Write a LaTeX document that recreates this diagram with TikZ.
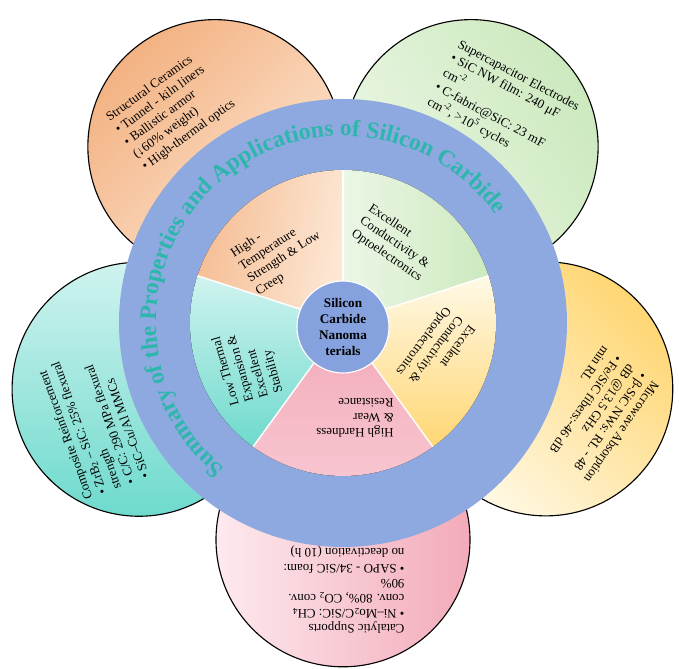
\documentclass[tikz,border=0pt]{standalone}
\usepackage{fontspec}
\setmainfont{Liberation Serif}
\usetikzlibrary{decorations.text}

\definecolor{ringblue}{RGB}{142,169,224}
\definecolor{coreblue}{RGB}{134,162,222}
\definecolor{titleteal}{RGB}{45,182,172}
\definecolor{peachA}{RGB}{243,178,130}
\definecolor{peachB}{RGB}{253,232,214}
\definecolor{mintA}{RGB}{204,233,190}
\definecolor{mintB}{RGB}{236,247,230}
\definecolor{sunA}{RGB}{255,214,115}
\definecolor{sunB}{RGB}{255,249,230}
\definecolor{roseA}{RGB}{243,170,185}
\definecolor{roseB}{RGB}{253,234,238}
\definecolor{aquaA}{RGB}{110,218,205}
\definecolor{aquaB}{RGB}{208,243,239}

\newcommand{\titlefont}{\bfseries\fontsize{16.8}{19}\selectfont}

\begin{document}
\begin{tikzpicture}[bubble/.style={draw, circle, line width=0.8pt, minimum size=6.35cm, inner sep=0pt},
    blurb/.style={font=\fontsize{9.2}{10.8}\selectfont, align=left, inner sep=0pt},
    coredisc/.style={circle, fill=coreblue, draw=white, line width=0.8pt, minimum size=2.3cm, inner sep=0pt,
        align=center, font=\bfseries\fontsize{9.4}{11.2}\selectfont},
    sep/.style={white, line width=1pt}]
        \useasboundingbox (-8.575,-8.65) rectangle (8.4,8.075);

        \node[bubble, left color=peachA, right color=peachB, shading angle=45] (ceram) at (126:5.45) {};
        \node[bubble, left color=mintA, right color=mintB, shading angle=-60] (supcap) at (54:5.45) {};
        \node[bubble, left color=sunA, right color=sunB, shading angle=-45] (microw) at (-18:5.33) {};
        \node[bubble, left color=roseB, right color=roseA] (catal) at (-90:5.42) {};
        \node[bubble, top color=aquaB, bottom color=aquaA] (compo) at (198:5.36) {};

        \node[blurb, rotate=36] (ceramtxt) at (-4.3,5.3) {Structural Ceramics\\• Tunnel - kiln liners\\• Ballistic armor\\(↓60\% weight)\\• High-thermal optics};
        \node[blurb, rotate=-28] (supcaptxt) at (4.0,5.45) {Supercapacitor Electrodes\\• SiC NW film: 240 μF\\[1pt]cm\textsuperscript{-2}\\[1pt]• C-fabric@SiC: 23 mF\\[1pt]cm\textsuperscript{-2}, >10\textsuperscript{5} cycles};
        \node[blurb, rotate=-125] (microwtxt) at (6.35,-2.3) {Microwave Absorption\\• β-SiC NWs: RL - 48\\dB @13.5 GHz\\• Fe/SiC fibers:-46 dB\\min RL};
        \node[blurb, rotate=180] (cataltxt) at (0.025,-6.675) {Catalytic Supports\\• Ni–Mo\textsubscript{2}C/SiC: CH\textsubscript{4}\\conv. 80\%, CO\textsubscript{2} conv.\\90\%\\• SAPO - 34/SiC foam:\\no deactivation (10 h)};
        \node[blurb, rotate=110] (compotxt) at (-6.25,-2.5) {Composite Reinforcement\\• ZrB\textsubscript{2} – SiC: 25\% flexural\\strength\\• C/C: 290 MPa flexural\\• SiC–Cu/Al MMCs};

        \fill[ringblue] (0,0) circle (5.6);
        \path[decorate, decoration={text along path, text align=center, text color=titleteal,
            text={|\titlefont|Summary of the Properties and Applications of Silicon Carbide}}]
            (250:4.675) arc[start angle=250, end angle=16, radius=4.675];

        \fill[left color=peachA!80!peachB, right color=peachB, shading angle=80] (0,0) -- (90:3.825) arc[start angle=90, end angle=162, radius=3.825] -- cycle;
        \fill[left color=mintB, right color=mintA] (0,0) -- (18:3.825) arc[start angle=18, end angle=90, radius=3.825] -- cycle;
        \fill[top color=sunB, bottom color=sunA] (0,0) -- (-54:3.825) arc[start angle=-54, end angle=18, radius=3.825] -- cycle;
        \fill[top color=roseA, bottom color=roseA!55!roseB] (0,0) -- (-126:3.825) arc[start angle=-126, end angle=-54, radius=3.825] -- cycle;
        \fill[top color=aquaB, bottom color=aquaA] (0,0) -- (162:3.825) arc[start angle=162, end angle=234, radius=3.825] -- cycle;

        \draw[sep] (0,0) -- (90:3.825);
        \draw[sep] (0,0) -- (18:3.825);
        \draw[sep] (0,0) -- (-54:3.825);
        \draw[sep] (0,0) -- (-126:3.825);
        \draw[sep] (0,0) -- (162:3.825);

        \node[blurb, rotate=33] (hightemp) at (-1.575,1.8) {High -\\Temperature\\Strength \& Low\\Creep};
        \node[blurb, rotate=-34] (conduct) at (1.3,2.0) {Excellent\\Conductivity \&\\Optoelectronics};
        \node[blurb, rotate=-127] (optoel) at (2.3,-0.675) {Excellent\\Conductivity \&\\Optoelectronics};
        \node[blurb, rotate=180] (hardness) at (0.3,-2.375) {High Hardness\\\& Wear\\Resistance};
        \node[blurb, rotate=106] (thermal) at (-2.375,-1.05) {Low Thermal\\Expansion \&\\Excellent\\Stability};

        \node[coredisc] (core) at (0,-0.1) {Silicon\\Carbide\\Nanoma\\terials};
    \end{tikzpicture}
\end{document}
